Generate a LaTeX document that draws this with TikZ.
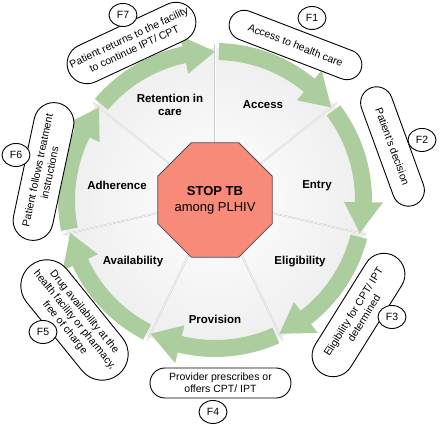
\documentclass[tikz,border=0pt]{standalone}
\usepackage{fontspec}
\setmainfont{Liberation Sans}
\usetikzlibrary{shapes.geometric}
\definecolor{stopred}{RGB}{248,138,122}
\definecolor{flowgreen}{RGB}{172,206,158}

\begin{document}
\begin{tikzpicture}[
         x=1pt, y=1pt,
         stop/.style={regular polygon, regular polygon sides=8, draw=black!70, line width=0.8pt,
            fill=stopred, minimum size=104pt, inner sep=0pt, align=center,
            font=\fontsize{13}{16}\selectfont},
         phase/.style={font=\fontsize{11.5}{13}\selectfont\bfseries, align=center},
         note/.style={draw, line width=0.9pt, fill=white, rounded corners=#1, align=center,
            inner sep=1pt, font=\fontsize{10.5}{12.5}\selectfont},
         note/.default=15pt,
         tag/.style={ellipse, draw, line width=0.9pt, fill=white, minimum width=28pt,
            minimum height=23pt, inner sep=0pt, font=\fontsize{10.5}{12}\selectfont},
         flow/.style={fill=flowgreen},
         divider/.style={line width=1.6pt, gray!40}
      ]
         \useasboundingbox (-215,-227) rectangle (225,200);

         % Disc and sector lines
         \shade[inner color=white, outer color=gray!13] (0,0) circle[radius=152];
         \foreach \k in {0,...,6}{
            \draw[divider] (0,0) -- ({90-\k*360/7}:156);
            \draw[white, line width=0.6pt] (0,0) -- ({90-\k*360/7}:156);
         }

         % Curved arrows, one per sector
         \foreach \k in {0,...,6}{
            \pgfmathsetmacro\a{90-\k*360/7-1.5}
            \pgfmathsetmacro\t{90-(\k+1)*360/7}
            \pgfmathsetmacro\n{\t+12}
            \fill[flow] (\a:157) arc[start angle=\a, end angle=\n, radius=157]
               -- (\n:168) -- (\t:148.5) -- (\n:129) -- (\n:140)
               arc[start angle=\n, end angle=\a, radius=140] -- cycle;
         }

         % Centre
         \node[stop] (stop) at (0,0) {\textbf{STOP TB}\\among PLHIV};

         % Sector labels
         \node[phase] (retention) at (-45,95) {Retention in\\care};
         \node[phase] (access) at (48,95) {Access};
         \node[phase] (entry) at (102,14) {Entry};
         \node[phase] (eligibility) at (85,-62) {Eligibility};
         \node[phase] (provision) at (0,-119) {Provision};
         \node[phase] (availability) at (-82,-62) {Availability};
         \node[phase] (adherence) at (-98,15) {Adherence};

         % Notes around the cycle
         \node[note, minimum width=140pt, minimum height=30pt, rotate=-21] (f1) at (80.5,155) {Access to health care};
         \node[note=16pt, minimum width=125pt, minimum height=32pt, rotate=-70] (f2) at (177.5,53.5) {Patient’s decision};
         \node[note=21pt, minimum width=138pt, minimum height=42pt, rotate=58] (f3) at (143.5,-115) {Eligibility for CPT/ IPT\\determined};
         \node[note, minimum width=141pt, minimum height=30pt] (f4) at (5.5,-183) {Provider prescribes or\\offers CPT/ IPT};
         \node[note=26pt, minimum width=140pt, minimum height=52pt, rotate=-51] (f5) at (-140.5,-120) {Drug availability at the\\health facility or pharmacy,\\free of charge};
         \node[note=20pt, minimum width=140pt, minimum height=40pt, rotate=78] (f6) at (-171.5,28.5) {Patient follows treatment\\instructions};
         \node[note=20pt, minimum width=138pt, minimum height=40pt, rotate=25] (f7) at (-83.5,157) {Patient returns to the facility\\to continue IPT/ CPT};

         % Tags
         \node[tag] (t1) at (97,182) {F1};
         \node[tag] (t2) at (207,60) {F2};
         \node[tag] (t3) at (177,-117) {F3};
         \node[tag] (t4) at (-2,-212) {F4};
         \node[tag] (t5) at (-172,-132) {F5};
         \node[tag] (t6) at (-199,45) {F6};
         \node[tag] (t7) at (-92,185) {F7};
      \end{tikzpicture}
\end{document}
